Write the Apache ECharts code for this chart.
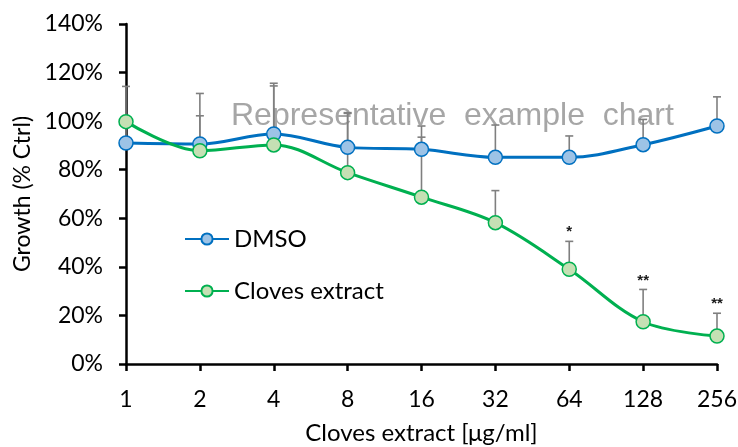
<!DOCTYPE html>
<html>
<head>
<meta charset="utf-8">
<script src="https://cdn.jsdelivr.net/npm/echarts@6/dist/echarts.min.js"></script>
<style>html,body{margin:0;padding:0;background:#fff;}#chart{width:738px;height:447px;}</style>
</head>
<body>
<div id="chart"></div>
<script>
const categories = ['1', '2', '4', '8', '16', '32', '64', '128', '256'];
const dmsoValues = [91.0, 90.6, 94.7, 89.2, 88.4, 85.1, 85.1, 90.3, 98.0];
const clovesValues = [99.8, 87.8, 90.2, 78.8, 68.7, 58.2, 39.0, 17.4, 11.5];
const dmsoErrors = [8.0, 11.6, 20.9, 14.0, 5.0, 13.3, 8.8, 10.4, 12.0];
const clovesErrors = [14.5, 23.6, 24.3, 24.7, 29.3, 13.2, 11.5, 13.3, 9.4];
const significance = ['', '', '', '', '', '', '*', '**', '**'];
const yTicks = [0, 20, 40, 60, 80, 100, 120, 140];

const FONT = 'Lato';
const chart = echarts.init(document.getElementById('chart'), null, {renderer: 'canvas'});

function errData(vals, errs) {
  return vals.map((v, i) => [i, v, errs[i]]);
}
function errRender(params, api) {
  const i = api.value(0), v = api.value(1), e = api.value(2);
  const p0 = api.coord([i, v]);
  const p1 = api.coord([i, v + e]);
  const style = {stroke: '#7f7f7f', lineWidth: 1.6};
  return {
    type: 'group',
    children: [
      {type: 'line', shape: {x1: p0[0], y1: p0[1], x2: p1[0], y2: p1[1]}, style: style},
      {type: 'line', shape: {x1: p1[0] - 4, y1: p1[1], x2: p1[0] + 4, y2: p1[1]}, style: style}
    ]
  };
}
function sigRender(params, api) {
  const i = api.value(0), top = api.value(1) + api.value(2);
  const p = api.coord([i, top]);
  const txt = significance[i];
  if (!txt) return null;
  return {
    type: 'text',
    style: {text: txt, x: p[0], y: p[1] - 9, align: 'center', verticalAlign: 'middle',
            font: 'bold 15px "Liberation Sans"', fill: '#1a1a1a'}
  };
}

const option = {
  animation: false,
  backgroundColor: '#ffffff',
  grid: {left: 126, right: 21, top: 24, bottom: 83, containLabel: false, outerBoundsMode: 'none'},
  graphic: [{
    type: 'text', z: -10,
    style: {text: 'Representative  example  chart', x: 231, y: 116, align: 'left', verticalAlign: 'middle',
            font: '32px "Liberation Sans"', fill: '#a6a6a6'}
  }],
  legend: {
    orient: 'vertical', left: 184, top: 227, padding: 0, itemGap: 28, itemWidth: 44, itemHeight: 14,
    textStyle: {fontFamily: FONT, fontSize: 24, color: '#000'},
    data: ['DMSO', 'Cloves extract']
  },
  xAxis: {
    type: 'category', data: categories, boundaryGap: false,
    name: 'Cloves extract [μg/ml]', nameLocation: 'middle', nameGap: 57,
    nameTextStyle: {fontFamily: FONT, fontSize: 24, color: '#000'},
    axisLine: {lineStyle: {color: '#000', width: 2.5}},
    axisTick: {show: true, length: 7, lineStyle: {color: '#000', width: 2.5}},
    axisLabel: {fontFamily: FONT, fontSize: 23, color: '#000', margin: 24},
    splitLine: {show: false}
  },
  yAxis: {
    type: 'value', min: 0, max: 140, interval: 20,
    name: 'Growth (% Ctrl)', nameLocation: 'middle', nameGap: 92,
    nameTextStyle: {fontFamily: FONT, fontSize: 23, color: '#000'},
    axisLine: {show: true, lineStyle: {color: '#000', width: 2.5}},
    axisTick: {show: true, length: 7, lineStyle: {color: '#000', width: 2.5}},
    axisLabel: {fontFamily: FONT, fontSize: 23, color: '#000', margin: 23,
                formatter: v => yTicks.indexOf(v) >= 0 ? v + '%' : ''},
    splitLine: {show: false}
  },
  series: [
    {type: 'custom', name: 'errD', renderItem: errRender, data: errData(dmsoValues, dmsoErrors), z: 1, silent: true},
    {type: 'custom', name: 'errC', renderItem: errRender, data: errData(clovesValues, clovesErrors), z: 1, silent: true},
    {type: 'custom', name: 'sig', renderItem: sigRender, data: errData(clovesValues, clovesErrors), z: 5, silent: true},
    {
      type: 'line', name: 'DMSO', data: dmsoValues, smooth: 0.35, z: 3,
      symbol: 'circle', symbolSize: 14, showAllSymbol: true,
      lineStyle: {color: '#0070c0', width: 3},
      itemStyle: {color: '#9dc3e6', borderColor: '#0070c0', borderWidth: 1.5}
    },
    {
      type: 'line', name: 'Cloves extract', data: clovesValues, smooth: 0.35, z: 4,
      symbol: 'circle', symbolSize: 14, showAllSymbol: true,
      lineStyle: {color: '#00b050', width: 3},
      itemStyle: {color: '#c5e0b4', borderColor: '#00b050', borderWidth: 1.5}
    }
  ]
};
chart.setOption(option);
</script>
</body>
</html>
